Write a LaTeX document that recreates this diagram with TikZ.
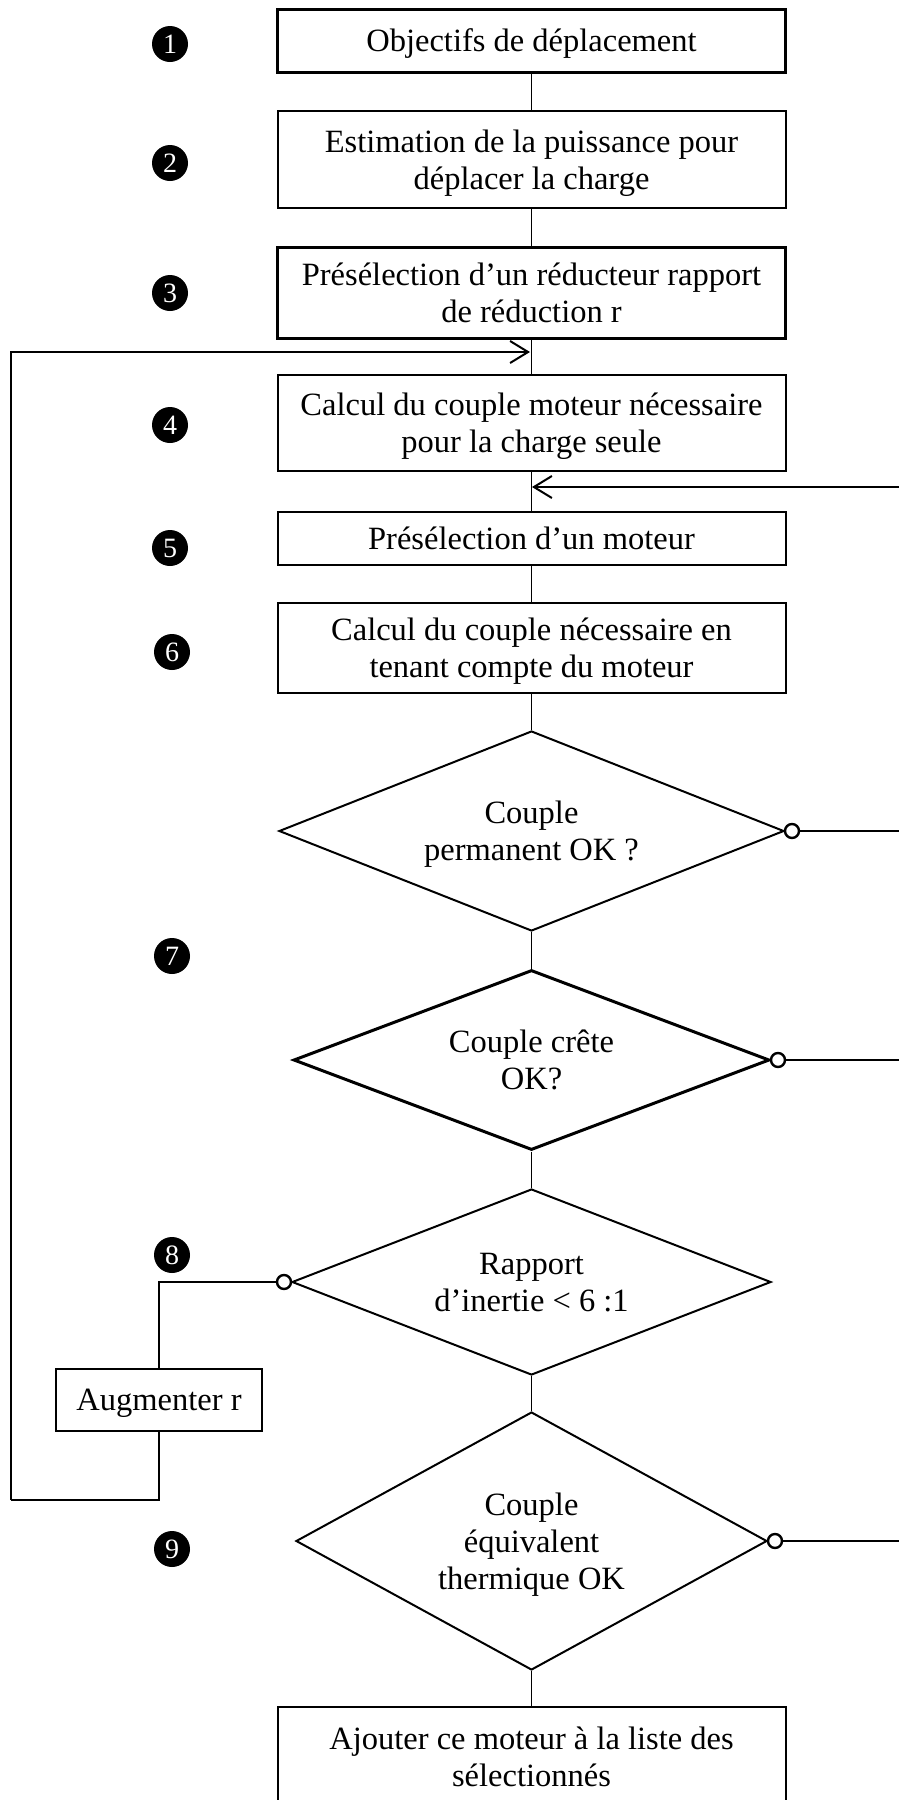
\documentclass[tikz,border=0pt]{standalone}
\usepackage{fontspec}
\setmainfont{Liberation Serif}
\usetikzlibrary{shapes.geometric,arrows.meta}
\begin{document}
\begin{tikzpicture}[x=0.5pt,y=-0.5pt,
  txt/.style={font=\fontsize{16.25}{18.5}\selectfont, align=center, text depth=0pt},
  stepbox/.style={txt, draw, line width=1pt, minimum width=254pt, inner sep=0pt},
  thickbox/.style={stepbox, line width=1.5pt},
  decision/.style={txt, draw, shape=diamond, shape aspect=2, inner sep=0pt, line width=1pt},
  num/.style={circle, fill=black, text=white, minimum size=18pt, inner sep=0pt, font=\fontsize{14}{14}\selectfont},
  nocirc/.style={circle, draw, fill=white, line width=1.2pt, minimum size=7pt, inner sep=0pt},
  conn/.style={line width=0.7pt},
  flow/.style={line width=1pt},
  tip/.style={-{Straight Barb[length=9pt,width=11pt,line width=1pt]}}
]
\clip (0,0) rectangle (899,1800);
\useasboundingbox (0,0) rectangle (899,1800);

% step boxes
\node[thickbox, minimum height=31.5pt] (b1) at (531.5,40.5) {Objectifs de déplacement};
\node[stepbox, minimum height=48.5pt] (b2) at (531.5,159.5) {Estimation de la puissance pour\\déplacer la charge};
\node[thickbox, minimum height=45.5pt] (b3) at (531.5,292.5) {Présélection d’un réducteur rapport\\de réduction r};
\node[stepbox, minimum height=48pt] (b4) at (531.5,423) {Calcul du couple moteur nécessaire\\pour la charge seule};
\node[stepbox, minimum height=26.5pt] (b5) at (531.5,538.5) {Présélection d’un moteur};
\node[stepbox, minimum height=45pt] (b6) at (531.5,648) {Calcul du couple nécessaire en\\tenant compte du moteur};

% decisions
\node[decision, minimum width=252.5pt, minimum height=100pt] (d1) at (531.5,831) {Couple\\permanent OK ?};
\node[decision, line width=1.5pt, minimum width=238pt, minimum height=90pt] (d2) at (531.5,1060) {Couple crête\\OK?};
\node[decision, minimum width=239.5pt, minimum height=93pt] (d3) at (531.5,1282) {Rapport\\d’inertie < 6 :1};
\node[decision, minimum width=235.5pt, minimum height=129pt] (d4) at (531.5,1541) {Couple\\équivalent\\thermique OK};

\node[stepbox, minimum height=49.5pt] (b7) at (531.5,1756.5) {Ajouter ce moteur à la liste des\\sélectionnés};
\node[stepbox, minimum width=103pt, minimum height=31pt] (aug) at (159,1399.5) {Augmenter r};

% step numbers
\node[num] (n1) at (170,44) {1};
\node[num] (n2) at (170,163) {2};
\node[num] (n3) at (170,293) {3};
\node[num] (n4) at (170,425) {4};
\node[num] (n5) at (170,548) {5};
\node[num] (n6) at (172,652) {6};
\node[num] (n7) at (172,956) {7};
\node[num] (n8) at (172,1255) {8};
\node[num] (n9) at (172,1549) {9};

% main connectors
\draw[conn] (b1.south) -- (b2.north);
\draw[conn] (b2.south) -- (b3.north);
\draw[conn] (b3.south) -- (b4.north);
\draw[conn] (b4.south) -- (b5.north);
\draw[conn] (b5.south) -- (b6.north);
\draw[conn] (b6.south) -- (d1.north);
\draw[conn] (d1.south) -- (d2.north);
\draw[conn] (d2.south) -- (d3.north);
\draw[conn] (d3.south) -- (d4.north);
\draw[conn] (d4.south) -- (b7.north);

% "no" circles
\node[nocirc] (c1) at ([xshift=3.5pt]d1.east) {};
\node[nocirc] (c2) at ([xshift=3.5pt]d2.east) {};
\node[nocirc] (c3) at ([xshift=-3.5pt]d3.west) {};
\node[nocirc] (c4) at ([xshift=3.5pt]d4.east) {};

% junctions and edge points
\coordinate (j1) at (530,352);
\coordinate (j2) at (532,487);
\coordinate (r2) at (899,487);
\coordinate (e1) at (899,831);
\coordinate (e2) at (899,1060);
\coordinate (e4) at (899,1541);
\coordinate (lb) at (11,1500);
\coordinate (lt) at (11,352);

% return to motor preselection
\draw[flow, tip] (r2) -- (j2);
\draw[conn] (c1.east) -- (c1.east -| e1);
\draw[conn] (c2.east) -- (c2.east -| e2);
\draw[conn] (c4.east) -- (c4.east -| e4);

% increase ratio loop
\draw[conn] (c3.west) -| (aug.north);
\draw[conn] (aug.south) |- (lb);
\draw[flow, tip] (lb) -- (lt) -- (j1);
\end{tikzpicture}
\end{document}
